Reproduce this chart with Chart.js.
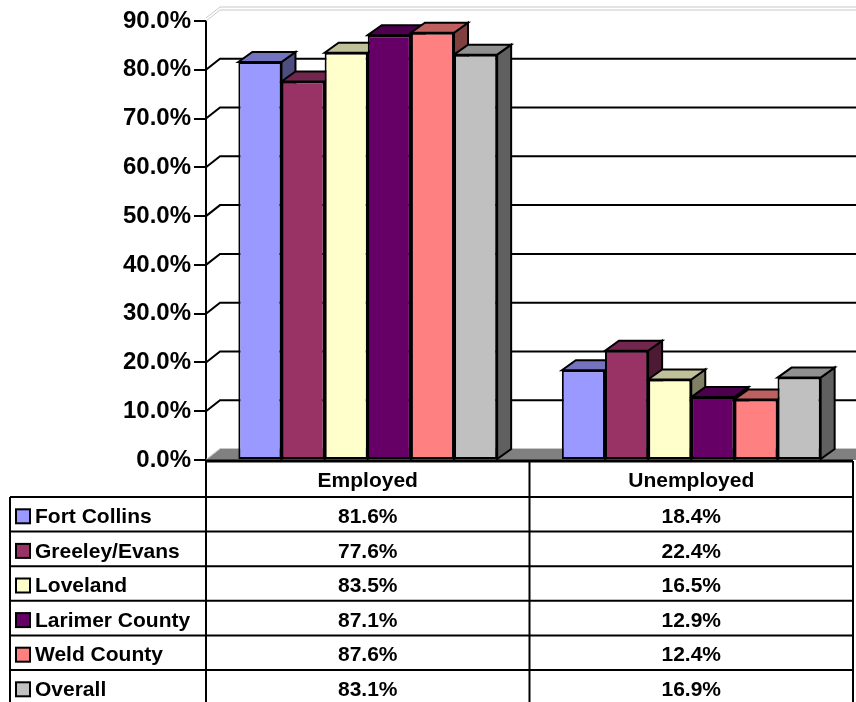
<!DOCTYPE html>
<html lang="en">
<head>
<meta charset="UTF-8" />
<title>Employment Status</title>
<script src="https://cdn.jsdelivr.net/npm/chart.js"></script>
<style>
  body { margin: 0; background: #fff; }
  #wrap { width: 856px; height: 702px; }
</style>
</head>
<body>
<div id="wrap"><canvas id="chartEmployment" width="856" height="702"></canvas></div>
<script>
// Survey results by area
const categories = ['Employed', 'Unemployed'];
const areas = ['Fort Collins', 'Greeley/Evans', 'Loveland', 'Larimer County', 'Weld County', 'Overall'];
const employed = [81.6, 77.6, 83.5, 87.1, 87.6, 83.1];
const unemployed = [18.4, 22.4, 16.5, 12.9, 12.4, 16.9];
const yTicks = [0, 10, 20, 30, 40, 50, 60, 70, 80, 90];

// face colours: front / top / side
const frontColors = ['#9999FF', '#993366', '#FFFFCC', '#660066', '#FF8080', '#C0C0C0'];
const topColors = ['#7373BF', '#73264D', '#C0C099', '#4D004D', '#BF6060', '#909090'];
const sideColors = ['#4D4D80', '#4D1A33', '#808066', '#330033', '#804040', '#606060'];

const FONT = "'Liberation Sans', Arial, sans-serif";
const BAR_DX = 14, BAR_DY = -10;   // bar depth
const WALL_DX = 14, WALL_DY = -11; // wall depth

const fmt = (v) => v.toFixed(1) + '%';

// walls, floor and the top/side faces of the bars
const threeD = {
  id: 'threeD',
  beforeDatasetsDraw(chart) {
    const { ctx, chartArea: a, scales: { y } } = chart;
    ctx.save();

    // floor
    const y0 = y.getPixelForValue(0);
    ctx.fillStyle = '#808080';
    ctx.beginPath();
    ctx.moveTo(a.left, y0);
    ctx.lineTo(chart.width, y0);
    ctx.lineTo(chart.width, y0 + WALL_DY);
    ctx.lineTo(a.left + WALL_DX, y0 + WALL_DY);
    ctx.closePath();
    ctx.fill();
    ctx.strokeStyle = '#C8C8C8';
    ctx.lineWidth = 1;
    ctx.beginPath();
    ctx.moveTo(a.left, y0 - 0.5);
    ctx.lineTo(a.left + WALL_DX, y0 + WALL_DY - 0.5);
    ctx.lineTo(chart.width, y0 + WALL_DY - 0.5);
    ctx.stroke();

    // wall gridlines
    yTicks.forEach((v) => {
      if (v === 0) return;
      const py = y.getPixelForValue(v);
      const top = v === yTicks[yTicks.length - 1];
      const offs = top ? [0, -3] : [0];
      ctx.strokeStyle = top ? '#C8C8C8' : '#000';
      ctx.lineWidth = top ? 1 : 2;
      offs.forEach((o) => {
        ctx.beginPath();
        ctx.moveTo(a.left, py + o);
        ctx.lineTo(a.left + WALL_DX, py + WALL_DY + o);
        ctx.lineTo(chart.width, py + WALL_DY + o);
        ctx.stroke();
      });
    });

    // bar tops and sides, left to right
    ctx.strokeStyle = '#000';
    ctx.lineWidth = 2;
    ctx.lineJoin = 'miter';
    chart.data.datasets.forEach((ds, i) => {
      const meta = chart.getDatasetMeta(i);
      meta.data.forEach((bar) => {
        const { x, y: top, base, width } = bar.getProps(['x', 'y', 'base', 'width'], true);
        const l = x - width / 2, r = x + width / 2;

        ctx.fillStyle = sideColors[i];
        ctx.beginPath();
        ctx.moveTo(r, top);
        ctx.lineTo(r + BAR_DX, top + BAR_DY);
        ctx.lineTo(r + BAR_DX, base + BAR_DY);
        ctx.lineTo(r, base);
        ctx.closePath();
        ctx.fill();
        ctx.stroke();

        ctx.fillStyle = topColors[i];
        ctx.beginPath();
        ctx.moveTo(l, top);
        ctx.lineTo(l + BAR_DX, top + BAR_DY);
        ctx.lineTo(r + BAR_DX, top + BAR_DY);
        ctx.lineTo(r, top);
        ctx.closePath();
        ctx.fill();
        ctx.stroke();
      });
    });
    ctx.restore();
  }
};

// data table under the plot, with legend keys
const dataTable = {
  id: 'dataTable',
  afterDraw(chart) {
    const { ctx, chartArea: a, scales: { x } } = chart;
    const left = 10;
    const c0 = a.left, c2 = a.right;
    const c1 = (x.getPixelForTick(0) + x.getPixelForTick(1)) / 2;
    const headTop = a.bottom + 1, headBottom = 497, rowH = 34.6;
    const values = [employed, unemployed];
    const bottom = chart.height + 10;

    ctx.save();
    ctx.fillStyle = '#000';
    ctx.textBaseline = 'middle';
    ctx.font = 'bold 21px ' + FONT;
    ctx.textAlign = 'center';
    categories.forEach((c, j) => {
      ctx.fillText(c, x.getPixelForTick(j), (headTop + headBottom) / 2 + 2);
    });

    areas.forEach((name, i) => {
      const rt = headBottom + i * rowH;
      const cy = rt + rowH / 2 + 2;
      // legend key
      ctx.fillStyle = frontColors[i];
      ctx.fillRect(16, cy - 7, 14, 14);
      ctx.strokeStyle = '#000';
      ctx.lineWidth = 2;
      ctx.strokeRect(16, cy - 7, 14, 14);
      ctx.fillStyle = '#000';
      ctx.textAlign = 'left';
      ctx.fillText(name, 35, cy + 1);
      ctx.textAlign = 'center';
      values.forEach((arr, j) => {
        ctx.fillText(fmt(arr[i]), x.getPixelForTick(j), cy + 1);
      });
    });

    // grid of the table
    ctx.strokeStyle = '#000';
    ctx.lineWidth = 3;
    ctx.beginPath();
    ctx.moveTo(c0, headTop);
    ctx.lineTo(c2, headTop);
    ctx.stroke();
    ctx.lineWidth = 2;
    ctx.beginPath();
    for (let i = 0; i <= areas.length; i++) {
      const ry = headBottom + i * rowH;
      ctx.moveTo(left, ry);
      ctx.lineTo(c2, ry);
    }
    ctx.moveTo(left, headBottom);
    ctx.lineTo(left, bottom);
    [c0, c1, c2].forEach((cx) => {
      ctx.moveTo(cx, headTop);
      ctx.lineTo(cx, bottom);
    });
    ctx.stroke();
    ctx.restore();
  }
};

const datasets = areas.map((name, i) => ({
  label: name,
  data: [employed[i], unemployed[i]],
  backgroundColor: frontColors[i],
  borderColor: '#000',
  borderWidth: 2,
  borderSkipped: false
}));

new Chart(document.getElementById('chartEmployment'), {
  type: 'bar',
  data: { labels: categories, datasets },
  options: {
    responsive: false,
    animation: false,
    layout: { padding: { top: 21, right: 3, bottom: 242, left: 0 } },
    plugins: { legend: { display: false }, tooltip: { enabled: false } },
    datasets: { bar: { categoryPercentage: 0.8, barPercentage: 1 } },
    scales: {
      x: { display: false },
      y: {
        min: 0,
        max: 90,
        afterFit: (scale) => { scale.width = 206; },
        afterBuildTicks: (scale) => { scale.ticks = yTicks.map((v) => ({ value: v })); },
        border: { color: '#000', width: 2 },
        grid: { drawOnChartArea: false, drawTicks: true, tickLength: 12, color: '#000', lineWidth: 2 },
        ticks: {
          color: '#000',
          padding: 3,
          font: { family: FONT, size: 24, weight: 'bold' },
          callback: (v) => fmt(v)
        }
      }
    }
  },
  plugins: [threeD, dataTable]
});
</script>
</body>
</html>
